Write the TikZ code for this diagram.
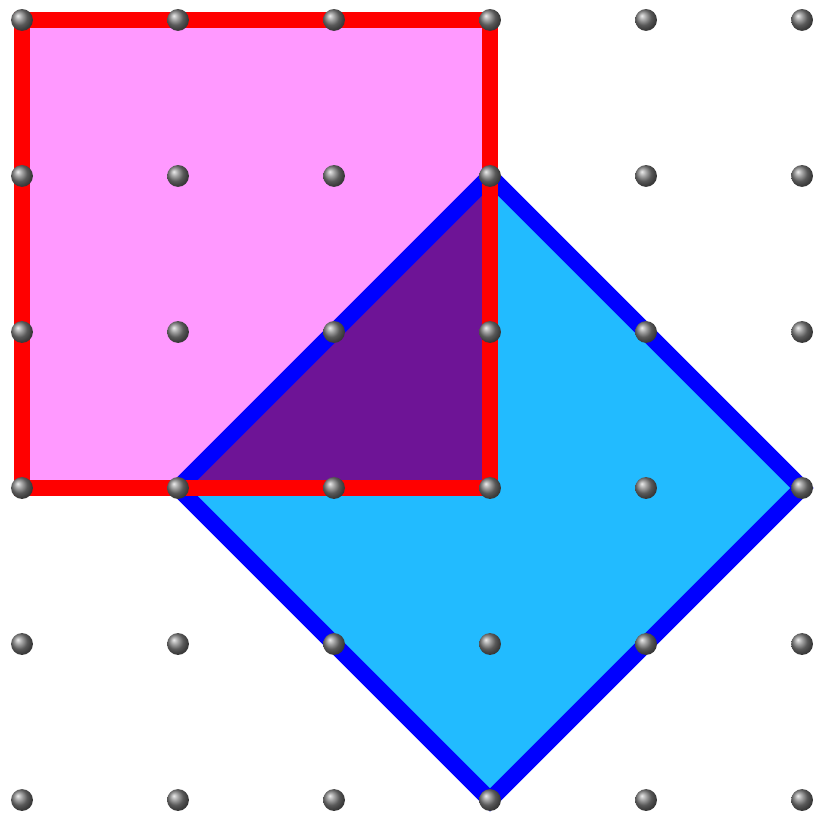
\documentclass[tikz,border=0pt]{standalone}
\begin{document}
\begin{tikzpicture}[x=1cm,y=1cm,
  edge/.style={line width=3pt,line join=miter},
  peg/.style={circle,inner sep=0pt,minimum size=0.14cm,ball color=gray,draw=none}]
\definecolor{pinkfill}{RGB}{255,153,255}
\definecolor{bluefill}{RGB}{34,187,255}
\definecolor{purplefill}{RGB}{110,20,150}
\useasboundingbox (-0.141,-0.09) rectangle (5.083,5.128);
\coordinate (r1) at (0,2); \coordinate (r2) at (3,2); \coordinate (r3) at (3,5); \coordinate (r4) at (0,5);
\coordinate (b1) at (3,4); \coordinate (b2) at (5,2); \coordinate (b3) at (3,0); \coordinate (b4) at (1,2);
\fill[pinkfill] (r1) -- (r2) -- (r3) -- (r4) -- cycle;
\fill[bluefill] (b1) -- (b2) -- (b3) -- (b4) -- cycle;
\fill[purplefill] (b4) -- (b1) -- (r2) -- cycle;
\draw[edge,blue] (b1) -- (b2) -- (b3) -- (b4) -- cycle;
\draw[edge,red] (r1) -- (r2) -- (r3) -- (r4) -- cycle;
\foreach \i in {0,...,5}{\foreach \j in {0,...,5}{\node[peg] (p\i\j) at (\i,\j) {};}}
\end{tikzpicture}
\end{document}
